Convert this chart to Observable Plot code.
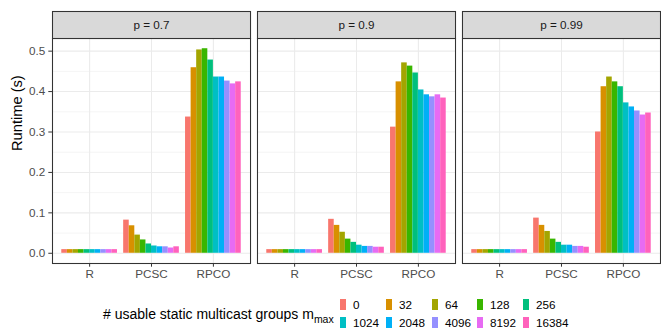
<!DOCTYPE html>
<html>
<head>
<meta charset="utf-8">
<script src="https://cdn.jsdelivr.net/npm/d3@7"></script>
<script src="https://cdn.jsdelivr.net/npm/@observablehq/plot@0.6"></script>
<style>
  html, body { margin: 0; padding: 0; background: #fff; }
  #wrap { position: relative; width: 661px; height: 333px; font-family: "Liberation Sans", Arial, sans-serif; }
  #legend-title { position: absolute; left: 103px; top: 305px; font-size: 14px; color: #000; white-space: nowrap; line-height: 18px; }
  #legend-title sub { font-size: 10.5px; vertical-align: -4px; }
  .key { position: absolute; font-size: 11.7px; color: #000; white-space: nowrap; line-height: 14px; }
  .key span.sw { position: absolute; left: 0; top: 1px; width: 6px; height: 11px; }
  .key span.lb { position: absolute; left: 13px; top: 0; }
</style>
</head>
<body>
<div id="wrap"><div id="chart"></div><div id="legend-title"># usable static multicast groups m<sub>max</sub></div></div>
<script>
// ---- data ----
const panels = ["0.7", "0.9", "0.99"];
const categories = ["R", "PCSC", "RPCO"];
const groups = [0, 32, 64, 128, 256, 1024, 2048, 4096, 8192, 16384];
const groupColors = ["#F8766D", "#D89000", "#A3A500", "#39B600", "#00BF7D", "#00BFC4", "#00B0F6", "#9590FF", "#E76BF3", "#FF62BC"];

const r_p07    = [0.009, 0.009, 0.009, 0.009, 0.009, 0.009, 0.009, 0.009, 0.009, 0.009];
const pcsc_p07 = [0.082, 0.068, 0.045, 0.033, 0.023, 0.018, 0.016, 0.016, 0.013, 0.016];
const rpco_p07 = [0.337, 0.459, 0.503, 0.506, 0.478, 0.436, 0.436, 0.426, 0.419, 0.424];

const r_p09    = [0.009, 0.009, 0.009, 0.009, 0.009, 0.009, 0.009, 0.009, 0.009, 0.009];
const pcsc_p09 = [0.084, 0.069, 0.052, 0.035, 0.027, 0.020, 0.017, 0.017, 0.015, 0.015];
const rpco_p09 = [0.312, 0.424, 0.471, 0.463, 0.446, 0.404, 0.392, 0.387, 0.392, 0.384];

const r_p099    = [0.009, 0.009, 0.009, 0.009, 0.009, 0.009, 0.009, 0.009, 0.009, 0.009];
const pcsc_p099 = [0.087, 0.069, 0.054, 0.035, 0.027, 0.020, 0.020, 0.017, 0.017, 0.015];
const rpco_p099 = [0.300, 0.412, 0.436, 0.424, 0.412, 0.372, 0.362, 0.352, 0.342, 0.347];

const yTicks = [0, 0.1, 0.2, 0.3, 0.4, 0.5];
const yMinorTicks = [0.05, 0.15, 0.25, 0.35, 0.45];

// ---- build table ----
const series = {
  "0.7":  {R: r_p07,  PCSC: pcsc_p07,  RPCO: rpco_p07},
  "0.9":  {R: r_p09,  PCSC: pcsc_p09,  RPCO: rpco_p09},
  "0.99": {R: r_p099, PCSC: pcsc_p099, RPCO: rpco_p099}
};
const data = [];
for (const p of panels) for (const c of categories) groups.forEach((g, i) => data.push({p, cat: c, m: g, idx: i, value: series[p][c][i]}));

// ---- layout ----
const W = 661, H = 285, mL = 52, mR = 1, mT = 38, mB = 22;
const fxPadInner = 0.034;
const fxStep = (W - mL - mR) / (3 - fxPadInner);
const panelW = fxStep * (1 - fxPadInner);
const xStep = panelW / (3 - 0.1 + 2 * 0.15);
const bandW = xStep * 0.9;
const barW = bandW / groups.length;
const innerH = H - mT - mB;

const font = "Liberation Sans, Arial, sans-serif";

const barMarks = groups.map((g, i) => Plot.barY(data.filter(d => d.m === g), {
  x: "cat", y: "value", fx: "p", fill: "m",
  insetLeft: i * barW, insetRight: (groups.length - 1 - i) * barW
}));

const chart = Plot.plot({
  width: W, height: H,
  marginLeft: mL, marginRight: mR, marginTop: mT, marginBottom: mB,
  style: {fontFamily: font, fontSize: "11.7px", background: "white", overflow: "visible"},
  fx: {domain: panels, paddingInner: fxPadInner, paddingOuter: 0, round: false, axis: null, label: null},
  x: {domain: categories, paddingInner: 0.1, paddingOuter: 0.15, round: false, label: null, axis: null},
  y: {domain: [-0.0253, 0.5313], label: null, axis: null},
  color: {type: "ordinal", domain: groups, range: groupColors},
  marks: [
    Plot.frame({fill: "white"}),
    Plot.gridY(yMinorTicks, {stroke: "#ebebeb", strokeOpacity: 1, strokeWidth: 0.55}),
    Plot.gridY(yTicks, {stroke: "#ebebeb", strokeOpacity: 1, strokeWidth: 1.07}),
    Plot.gridX(categories, {stroke: "#ebebeb", strokeOpacity: 1, strokeWidth: 1.07}),
    ...barMarks,
    Plot.frame({stroke: "#333333", strokeWidth: 1.07}),
    Plot.frame({fill: "#d9d9d9", stroke: "#333333", strokeWidth: 1.07, insetTop: -27, insetBottom: innerH}),
    Plot.text(panels, {fx: d => d, text: d => `p = ${d}`, frameAnchor: "top", dy: -13.5, lineAnchor: "middle", fontSize: 11.7, fill: "#1a1a1a"}),
    Plot.axisX({tickSize: 3.7, tickPadding: 2, stroke: "#333333", fill: "#4d4d4d", fontSize: 11.7, label: null}),
    Plot.axisY(yTicks, {tickSize: 3.7, tickPadding: 3.5, stroke: "#333333", fill: "#4d4d4d", fontSize: 11.7, tickFormat: d3.format(".1f"), label: null}),
    Plot.text([panels[0]], {fx: d => d, text: () => "Runtime (s)", frameAnchor: "left", dx: -35, rotate: -90, fontSize: 14.67, fill: "#000"})
  ]
});
document.getElementById("chart").appendChild(chart);

// ---- legend ----
const wrap = document.getElementById("wrap");
const colX = [340, 386, 432, 477, 523];
const rowY = [298, 316];
groups.forEach((g, i) => {
  const k = document.createElement("div");
  k.className = "key";
  k.style.left = colX[i % 5] + "px";
  k.style.top = rowY[Math.floor(i / 5)] + "px";
  k.innerHTML = `<span class="sw" style="background:${groupColors[i]}"></span><span class="lb">${g}</span>`;
  wrap.appendChild(k);
});
</script>
</body>
</html>
